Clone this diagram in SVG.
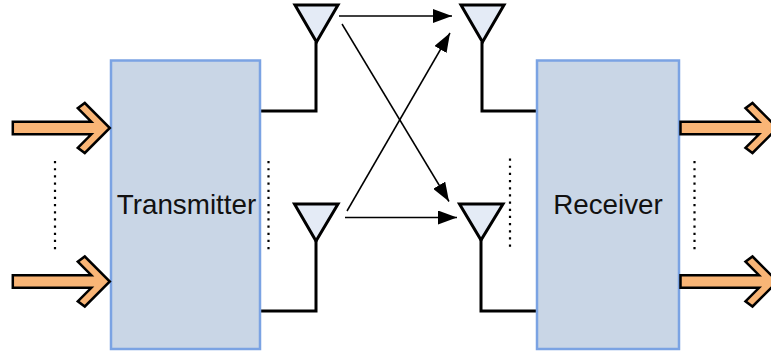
<svg xmlns="http://www.w3.org/2000/svg" width="771" height="353" viewBox="0 0 771 353">
<style>
.box{fill:#c9d6e6;stroke:#7ba3e3;stroke-width:2.500}
.lbl{font-family:"Liberation Sans",Arial,sans-serif;font-size:27.800px;fill:#111;text-anchor:middle}
.arr{fill:#f9b576;stroke:#000;stroke-width:2.500;stroke-linejoin:miter}
.ant{fill:#e4ebf6;stroke:#000;stroke-width:3;stroke-linejoin:miter}
.feed{fill:none;stroke:#000;stroke-width:3}
.sig{fill:none;stroke:#000;stroke-width:1.500;marker-end:url(#head)}
.dots{fill:none;stroke:#000;stroke-width:2.200;stroke-dasharray:2.200 4.970}
</style>
<defs>
<marker id="head" markerUnits="userSpaceOnUse" markerWidth="20" markerHeight="14" refX="19" refY="7" orient="auto"><path d="M0 0L19 7L0 14Z" fill="#000"/></marker>
<path id="bigArrow" d="M0 -6.300H78.500L65 -19.800L72 -25L97 0L72 25L65 19.800L78.500 6.300H0Z"/>
</defs>
<g id="connectors">
<path class="feed" d="M261 111H316V42"/>
<path class="feed" d="M537 111H482V42"/>
<path class="feed" d="M261 311H316V241"/>
<path class="feed" d="M537 311H481V240"/>
<path class="sig" d="M339 16H452"/>
<path class="sig" d="M342 24L449 201.500"/>
<path class="sig" d="M347 211L450 33"/>
<path class="sig" d="M345 217.500H457"/>
</g>
<g id="transmitter"><rect class="box" x="111" y="60.500" width="149" height="288.500"/><text class="lbl" x="186.500" y="214">Transmitter</text></g>
<g id="receiver"><rect class="box" x="537" y="60.500" width="142" height="288.500"/><text class="lbl" x="608" y="214">Receiver</text></g>
<g id="input-1"><use href="#bigArrow" class="arr" transform="translate(12.800 128)"/></g>
<g id="input-2"><use href="#bigArrow" class="arr" transform="translate(12.800 281.500)"/></g>
<g id="output-1"><use href="#bigArrow" class="arr" transform="translate(680.500 128)"/></g>
<g id="output-2"><use href="#bigArrow" class="arr" transform="translate(680.500 281.500)"/></g>
<g id="antenna-tx-1"><path class="ant" d="M295 5H338L316.500 42Z"/></g>
<g id="antenna-rx-1"><path class="ant" d="M461 5H504L482.500 42Z"/></g>
<g id="antenna-tx-2"><path class="ant" d="M294.500 204H338L316 241Z"/></g>
<g id="antenna-rx-2"><path class="ant" d="M459.500 204H503L481 240Z"/></g>
<g id="ellipses">
<path class="dots" d="M55 161V250"/>
<path class="dots" d="M268.500 161V250"/>
<path class="dots" d="M510 158.500V248"/>
<path class="dots" d="M694.500 161V250"/>
</g>
</svg>
